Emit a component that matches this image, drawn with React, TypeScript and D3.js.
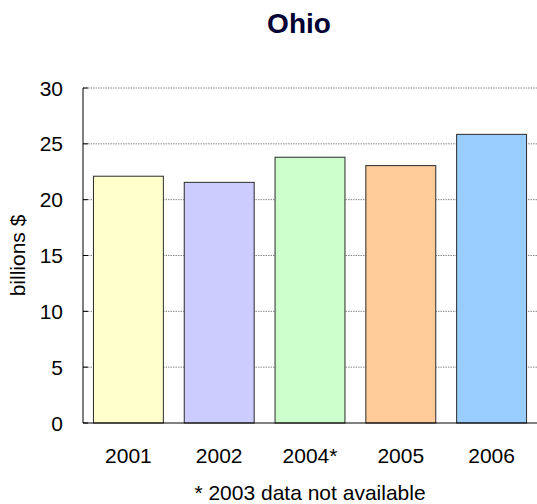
import React from 'react'
import * as d3 from 'd3'

const years = ['2001', '2002', '2004*', '2005', '2006']
const values = [22.1, 21.55, 23.8, 23.05, 25.85]
const colors = ['#FFFFCC', '#CCCCFF', '#CCFFCC', '#FFCC99', '#99CCFF']
const yTicks = [0, 5, 10, 15, 20, 25, 30]

const W = 537
const H = 504
const margin = { top: 88, right: 0, bottom: 81, left: 83 }

export default function App() {
  const x = d3
    .scaleBand<string>()
    .domain(years)
    .range([margin.left, W - margin.right])
    .paddingInner(0.23)
    .paddingOuter(0.115)

  const y = d3
    .scaleLinear()
    .domain([0, 30])
    .range([H - margin.bottom, margin.top])

  const font = 'Arial, "Liberation Sans", Helvetica, sans-serif'
  const plotCx = (margin.left + W - margin.right) / 2

  return (
    <svg
      width={W}
      height={H}
      style={{ position: 'absolute', left: 0, top: 0, display: 'block', background: '#fff' }}
      fontFamily={font}
    >
      <text x={299} y={33} textAnchor="middle" fontSize={28} fontWeight="bold" fill="#000033">
        Ohio
      </text>

      {yTicks.slice(1).map((t) => (
        <line
          key={`g-${t}`}
          x1={margin.left}
          x2={W - margin.right}
          y1={y(t)}
          y2={y(t)}
          stroke="#8a8a8a"
          strokeWidth={1}
          strokeDasharray="1.5,1"
        />
      ))}

      {years.map((yr, i) => (
        <rect
          key={`bar-${yr}`}
          x={x(yr)}
          y={y(values[i])}
          width={x.bandwidth()}
          height={y(0) - y(values[i])}
          fill={colors[i]}
          stroke="#2a2a2a"
          strokeWidth={1}
        />
      ))}

      <line x1={margin.left} x2={margin.left} y1={margin.top} y2={y(0)} stroke="#000" />
      <line x1={margin.left} x2={W - margin.right} y1={y(0)} y2={y(0)} stroke="#000" />

      {yTicks.map((t) => (
        <g key={`t-${t}`}>
          <line x1={margin.left} x2={margin.left + 5} y1={y(t)} y2={y(t)} stroke="#000" />
          <text x={63} y={y(t)} dy="0.36em" textAnchor="end" fontSize={21} fill="#000">
            {t}
          </text>
        </g>
      ))}

      {years.map((yr) => (
        <text
          key={`xl-${yr}`}
          x={(x(yr) ?? 0) + x.bandwidth() / 2}
          y={462.5}
          textAnchor="middle"
          fontSize={21}
          fill="#000"
        >
          {yr}
        </text>
      ))}

      <text
        transform={`translate(25, ${y(15)}) rotate(-90)`}
        textAnchor="middle"
        fontSize={21}
        fill="#000"
      >
        billions $
      </text>

      <text x={plotCx} y={500} textAnchor="middle" fontSize={21} fill="#000">
        * 2003 data not available
      </text>
    </svg>
  )
}
